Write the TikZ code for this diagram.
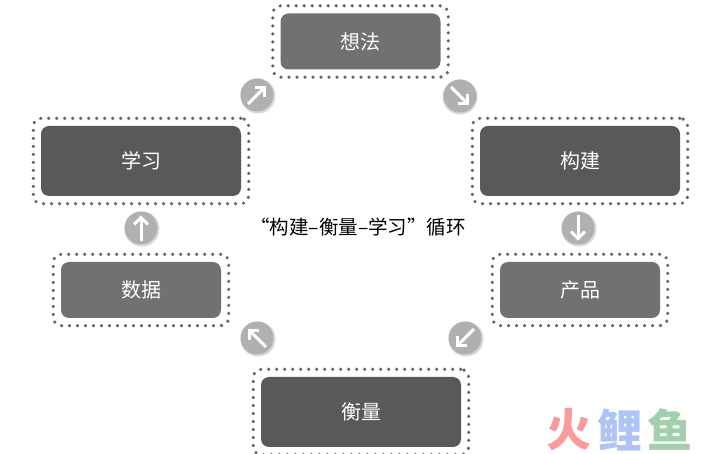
\documentclass[tikz,border=0pt]{standalone}
\usepackage{fontspec}
\setmainfont{Noto Sans CJK SC}
\usetikzlibrary{arrows.meta,fit}
\definecolor{darkbox}{HTML}{595959}
\definecolor{lightbox}{HTML}{717171}
\definecolor{dotgray}{HTML}{666666}
\definecolor{roundgray}{HTML}{B0B0B0}
\definecolor{roundedge}{HTML}{D8D8D8}
\definecolor{logored}{HTML}{F99A9C}
\definecolor{logoblue}{HTML}{AEC4F4}
\definecolor{logogreen}{HTML}{A3D0AC}
\tikzset{
    box/.style={rectangle,rounded corners=8pt,inner sep=0pt,text=white,font=\fontsize{20}{24}\selectfont},
    bigbox/.style={box,fill=darkbox,minimum width=200pt,minimum height=70pt},
    smallbox/.style={box,fill=lightbox,minimum width=160pt,minimum height=56pt},
    frame/.style={rectangle,rounded corners=8pt,inner sep=7.5pt,draw=dotgray,line width=3.6pt,line cap=round,dash pattern=on 0pt off 8pt},
    round/.style={circle,fill=roundgray,minimum size=33pt,inner sep=0pt},
    edge/.style={circle,fill=roundedge,minimum size=35pt,inner sep=0pt},
    pointer/.style={draw=white,line width=3pt,-{Straight Barb[length=7pt,width=14pt,line width=3pt]},shorten <=4pt,shorten >=4pt},
    logo/.style={font=\fontsize{45}{50}\selectfont\bfseries,inner sep=0pt}
}
\begin{document}
\begin{tikzpicture}[x=1pt,y=-1pt]
    \useasboundingbox (0,0) rectangle (716,454);

    \node[smallbox] (idea) at (360.5,41.5) {想法};
    \node[bigbox] (build) at (580,161) {构建};
    \node[smallbox] (product) at (580,290) {产品};
    \node[bigbox] (measure) at (361,412) {衡量};
    \node[smallbox] (data) at (141,290) {数据};
    \node[bigbox] (learn) at (141,161) {学习};

    \node[frame,fit=(idea)] (ideaframe) {};
    \node[frame,fit=(build)] (buildframe) {};
    \node[frame,fit=(product)] (productframe) {};
    \node[frame,fit=(measure)] (measureframe) {};
    \node[frame,fit=(data)] (dataframe) {};
    \node[frame,fit=(learn)] (learnframe) {};

    \node[edge] (edge1) at (258,96) {};
    \node[edge] (edge2) at (460,97) {};
    \node[edge] (edge3) at (579,229) {};
    \node[edge] (edge4) at (466,339) {};
    \node[edge] (edge5) at (258,339) {};
    \node[edge] (edge6) at (142,229) {};

    \node[round] (round1) at (257,95) {};
    \node[round] (round2) at (460,96) {};
    \node[round] (round3) at (578,228) {};
    \node[round] (round4) at (465,338) {};
    \node[round] (round5) at (257,338) {};
    \node[round] (round6) at (141,228) {};

    \draw[pointer] (round1.225) -- (round1.45);
    \draw[pointer] (round2.135) -- (round2.315);
    \draw[pointer] (round3.90) -- (round3.270);
    \draw[pointer] (round4.45) -- (round4.225);
    \draw[pointer] (round5.315) -- (round5.135);
    \draw[pointer] (round6.270) -- (round6.90);

    \node[font=\fontsize{19.5}{24}\selectfont,inner sep=0pt] (title) at (358,227) {“构建–衡量–学习”循环};

    \node[logo,text=logored] (logo1) at (569,430) {火};
    \node[logo,text=logoblue] (logo2) at (620,430) {鲤};
    \node[logo,text=logogreen] (logo3) at (670,430) {鱼};
\end{tikzpicture}
\end{document}
